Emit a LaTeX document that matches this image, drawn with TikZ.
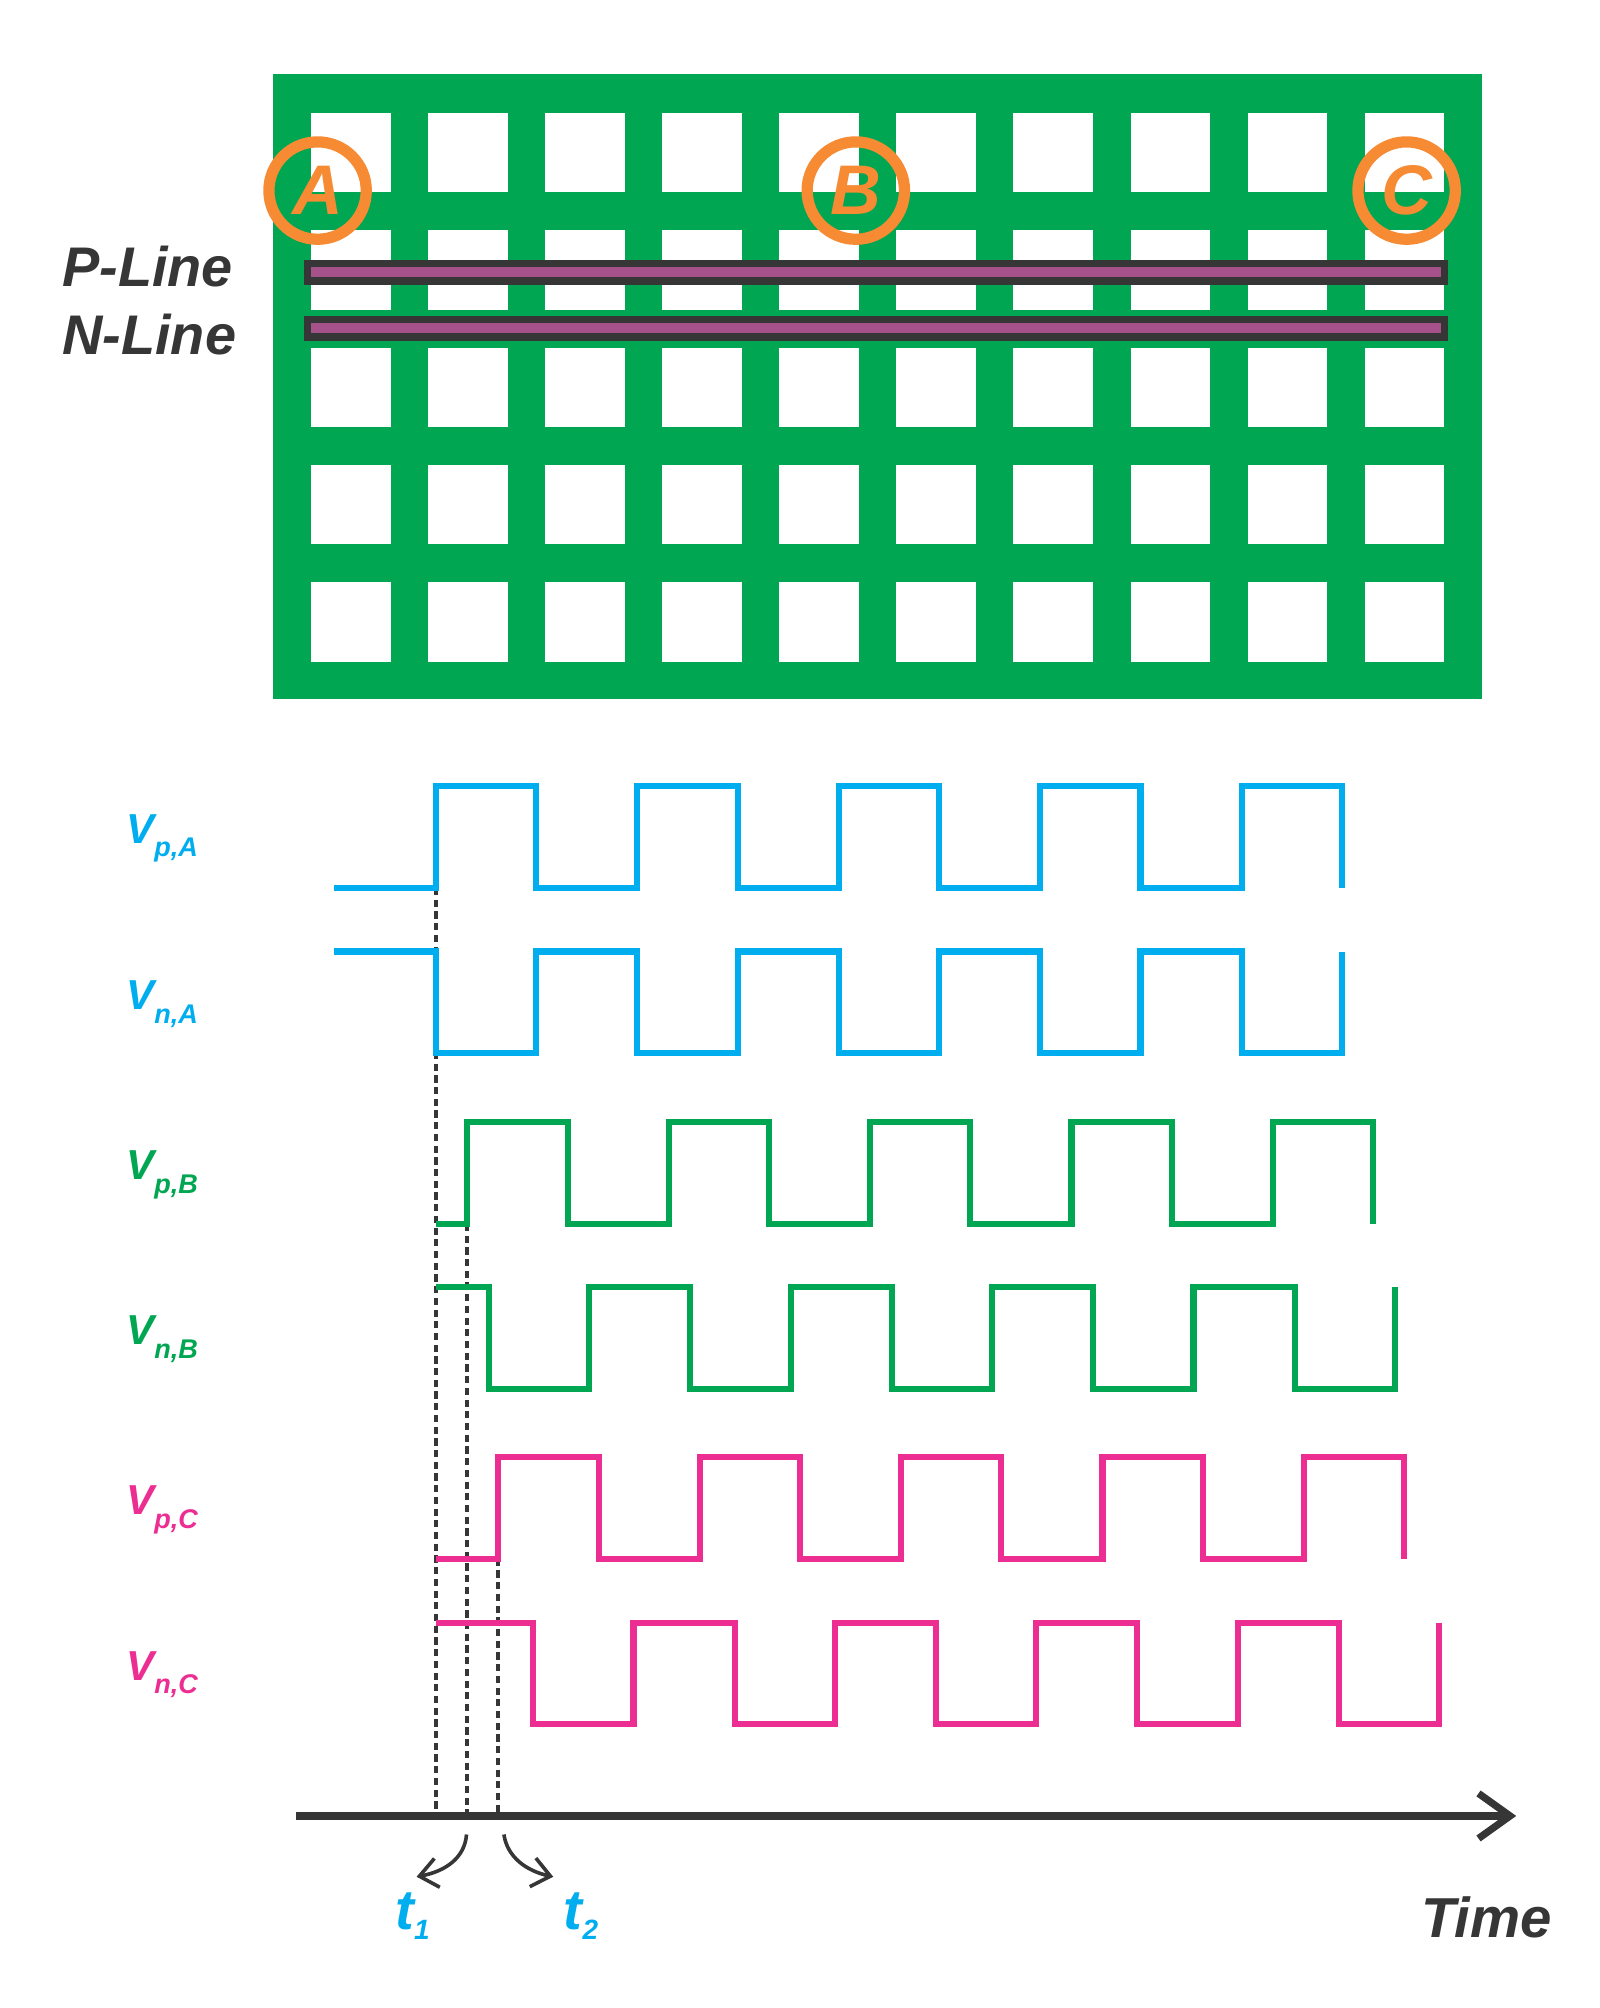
\documentclass[tikz,border=0pt]{standalone}
\usepackage{fontspec}
\setmainfont{Liberation Sans}
\usetikzlibrary{arrows.meta,positioning}
\definecolor{pcbgreen}{HTML}{00A651}
\definecolor{ringor}{HTML}{F68B33}
\definecolor{linepur}{HTML}{A5528A}
\definecolor{darkln}{HTML}{363636}
\definecolor{wblue}{HTML}{00AEEF}
\definecolor{wgreen}{HTML}{00A651}
\definecolor{wpink}{HTML}{EC2D92}
\newcommand{\vsub}[3]{\raisebox{-#1}{\fontsize{#2}{8}\selectfont #3}}
\tikzset{
  hole/.style={fill=white},
  railbar/.style={draw=darkln,fill=linepur,line width=1.7pt},
  ring/.style={circle,draw=ringor,line width=2.5pt,minimum size=0.76cm,inner sep=0pt,
    text=ringor,font=\fontsize{15.6}{18}\selectfont\bfseries\itshape},
  rowlbl/.style={anchor=base west,inner sep=0pt,text=darkln,
    font=\fontsize{12.4}{14}\selectfont\bfseries\itshape},
  vlbl/.style={anchor=base west,inner sep=0pt,font=\fontsize{9.3}{11}\selectfont\bfseries\itshape},
  tlbl/.style={anchor=base west,inner sep=0pt,text=wblue,
    font=\fontsize{12.5}{14}\selectfont\bfseries\itshape},
  sqwave/.style={line width=1.35pt},
  guide/.style={darkln,dash pattern=on 1.6pt off 1pt,line width=0.75pt},
  timeax/.style={-{Straight Barb[length=7pt,width=10pt]},darkln,line width=1.6pt},
  tcurve/.style={-{Straight Barb[length=4pt,width=6.5pt]},darkln,line width=0.8pt},
}

\begin{document}
\begin{tikzpicture}[x=0.01cm,y=-0.01cm]
  \useasboundingbox (0,0) rectangle (1249,1568);
  \fill[white] (0,0) rectangle (1249,1568);
  % board with holes
  \fill[pcbgreen] (213,58) rectangle (1157,546);
  \foreach \i in {0,...,9}
    \foreach \j in {0,...,4}
      \fill[hole] ({243+\i*91.4},{88+\j*91.7}) rectangle +(62,62);
  % rails
  \draw[railbar] (240,205.8) rectangle (1128,219.5);
  \draw[railbar] (240,249.4) rectangle (1128,263.1);
  \node[rowlbl] (pline) at (48,223.5) {P-Line};
  \node[rowlbl] (nline) at (48,276.6) {N-Line};
  % probe points
  \node[ring] (pa) at (248,148.8) {A};
  \node[ring] (pb) at (668.3,148.8) {B};
  \node[ring] (pc) at (1098.4,148.8) {C};
  % time axis and guides
  \coordinate (t0) at (231,1418);
  \coordinate (tend) at (1184,1418);
  \coordinate (ga) at (340.4,693.4);
  \coordinate (gb) at (364.8,955.7);
  \coordinate (gc) at (389,1217.2);
  \foreach \g in {ga,gb,gc}
    \draw[guide] (\g) -- (\g |- t0);
  % waveforms: start x / first edge / start level / other level / colour
  \foreach \sx/\ex/\ya/\yb/\wc in {261/340.3/693.4/614.1/wblue,
      261/340.3/743/822.3/wblue,
      340.4/364.8/955.7/876.4/wgreen,
      340.4/381.7/1005.2/1084.5/wgreen,
      340.4/389/1217.2/1137.9/wpink,
      340.4/416.3/1267.2/1346.5/wpink}
    \draw[sqwave,draw=\wc] (\sx,\ya) \foreach \k in {0,...,4}{
      -- ({\ex+\k*157.3},\ya) -- ({\ex+\k*157.3},\yb)
      -- ({\ex+78.4+\k*157.3},\yb) -- ({\ex+78.4+\k*157.3},\ya)};
  \node[vlbl,text=wblue] (vpa) at (98,658.5) {V\vsub{3pt}{6}{p,A}};
  \node[vlbl,text=wblue] (vna) at (98,788.3) {V\vsub{3pt}{6}{n,A}};
  \node[vlbl,text=wgreen] (vpb) at (98,921.2) {V\vsub{3pt}{6}{p,B}};
  \node[vlbl,text=wgreen] (vnb) at (98,1050) {V\vsub{3pt}{6}{n,B}};
  \node[vlbl,text=wpink] (vpc) at (98,1182.7) {V\vsub{3pt}{6}{p,C}};
  \node[vlbl,text=wpink] (vnc) at (98,1312) {V\vsub{3pt}{6}{n,C}};
  \draw[timeax] (t0) -- (tend);
  \node[rowlbl,font=\fontsize{12.5}{14}\selectfont\bfseries\itshape] (tlab) at (1109,1513.2) {Time};
  % delay marks
  \node[tlbl] (t1) at (308,1506.6) {t\vsub{2.2pt}{6.2}{1}};
  \node[tlbl] (t2) at (439.6,1506.6) {t\vsub{2.2pt}{6.2}{2}};
  \coordinate (c1s) at (364.3,1432.5);
  \coordinate (c1e) at (325.3,1465.5);
  \coordinate (c2s) at (393.5,1432.5);
  \coordinate (c2e) at (432,1465.5);
  \draw[tcurve] (c1s) .. controls (363,1450) and (349,1461) .. (c1e);
  \draw[tcurve] (c2s) .. controls (396,1450) and (411,1461) .. (c2e);
\end{tikzpicture}
\end{document}
